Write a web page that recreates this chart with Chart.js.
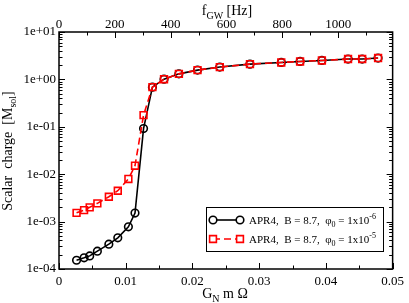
<!DOCTYPE html>
<html>
<head>
<meta charset="utf-8">
<script src="https://cdn.jsdelivr.net/npm/chart.js@4/dist/chart.umd.min.js"></script>
<style>
  html, body { margin: 0; padding: 0; background: #fff; }
  #wrap { width: 409px; height: 303px; position: relative; }
</style>
</head>
<body>
<div id="wrap"><canvas id="myChart" width="409" height="303"></canvas></div>
<script>
// G_N m Omega values (same for both runs)
const omegaVals = [0.00263, 0.00376, 0.0046, 0.00575, 0.00747, 0.00881, 0.0104, 0.01139, 0.01267, 0.014,
    0.01574, 0.01797, 0.02076, 0.0241, 0.02862, 0.03331, 0.03613, 0.0394, 0.04332, 0.04544, 0.04782];
// scalar charge [M_sol], phi0 = 1e-6
const chargePhi6 = [1.53e-4, 1.72e-4, 1.89e-4, 2.38e-4, 3.34e-4, 4.54e-4, 7.76e-4, 1.51e-3, 0.0916, 0.687,
    1.01, 1.31, 1.57, 1.82, 2.10, 2.28, 2.39, 2.51, 2.69, 2.69, 2.82];
// scalar charge [M_sol], phi0 = 1e-5
const chargePhi5 = [1.53e-3, 1.75e-3, 2.0e-3, 2.43e-3, 3.34e-3, 4.48e-3, 7.94e-3, 0.0151, 0.176, 0.687,
    1.01, 1.31, 1.57, 1.82, 2.10, 2.28, 2.39, 2.51, 2.69, 2.69, 2.82];
const xTicks = [0, 0.01, 0.02, 0.03, 0.04, 0.05];
const freqTicks = [0, 200, 400, 600, 800, 1000];
const freqMax = 1195;
const decades = [1e-4, 1e-3, 1e-2, 1e-1, 1, 10];

const serif = '"Liberation Serif", "DejaVu Serif", serif';

function toPoints(ys) {
    return omegaVals.map((x, i) => ({ x: x, y: ys[i] }));
}

function expLabel(v) {
    const e = Math.round(Math.log10(v));
    const a = Math.abs(e);
    return '1e' + (e < 0 ? '-' : '+') + (a < 10 ? '0' + a : a);
}

// inward ticks, frame, titles and legend
const decorPlugin = {
    id: 'decor',
    afterDraw(chart) {
        const ctx = chart.ctx;
        const a = chart.chartArea;
        const xs = chart.scales.x, ys = chart.scales.y, fs = chart.scales.x2;
        ctx.save();
        ctx.strokeStyle = '#000';
        ctx.lineWidth = 1;
        ctx.beginPath();
        // y ticks left and right
        for (let d = 0; d < decades.length; d++) {
            for (let m = 1; m <= 9; m++) {
                const v = decades[d] * m;
                if (v > 10.0001) break;
                const py = Math.round(ys.getPixelForValue(v)) + 0.5;
                const len = m === 1 ? 6 : 3.5;
                ctx.moveTo(a.left, py); ctx.lineTo(a.left + len, py);
                ctx.moveTo(a.right, py); ctx.lineTo(a.right - len, py);
            }
        }
        // bottom ticks
        for (let v = 0; v <= 0.05001; v += 0.005) {
            const px = Math.round(xs.getPixelForValue(v)) + 0.5;
            const major = Math.abs(v / 0.01 - Math.round(v / 0.01)) < 1e-6;
            ctx.moveTo(px, a.bottom); ctx.lineTo(px, a.bottom - (major ? 6 : 3.5));
        }
        // top ticks
        for (let f = 0; f <= freqMax; f += 100) {
            const px = Math.round(fs.getPixelForValue(f)) + 0.5;
            const major = f % 200 === 0;
            ctx.moveTo(px, a.top); ctx.lineTo(px, a.top + (major ? 6 : 3.5));
        }
        ctx.stroke();
        // frame
        ctx.lineWidth = 1.5;
        ctx.strokeRect(a.left, a.top, a.right - a.left, a.bottom - a.top);

        // titles
        ctx.fillStyle = '#000';
        ctx.textBaseline = 'alphabetic';
        drawParts(ctx, [['f', 14, 0], ['GW', 10, 4], [' [Hz]', 14, 0]], 227, 15, true);
        drawParts(ctx, [['G', 14, 0], ['N', 10, 4], [' m \u03A9', 14, 0]], 225, 298, true);
        ctx.save();
        ctx.translate(12, 151);
        ctx.rotate(-Math.PI / 2);
        drawParts(ctx, [['Scalar  charge  [M', 14, 0], ['sol', 10, 4], [']', 14, 0]], 0, 0, true);
        ctx.restore();

        // legend
        ctx.lineWidth = 1;
        ctx.strokeStyle = '#000';
        ctx.strokeRect(206.5, 207.5, 177, 44);
        const rows = [
            { y: 220, color: '#000', dash: [], style: 'circle', sup: '-6' },
            { y: 239, color: '#ff0000', dash: [7, 4], style: 'rect', sup: '-5' }
        ];
        rows.forEach(r => {
            ctx.strokeStyle = r.color;
            ctx.lineWidth = 1.6;
            ctx.setLineDash(r.dash);
            ctx.beginPath();
            ctx.moveTo(213, r.y); ctx.lineTo(240, r.y);
            ctx.stroke();
            ctx.setLineDash([]);
            [213, 240].forEach(px => {
                ctx.beginPath();
                if (r.style === 'circle') {
                    ctx.arc(px, r.y, 3.8, 0, Math.PI * 2);
                } else {
                    ctx.rect(px - 3.4, r.y - 3.4, 6.8, 6.8);
                }
                ctx.fillStyle = '#fff';
                ctx.fill();
                ctx.stroke();
            });
            ctx.fillStyle = '#000';
            drawParts(ctx, [['APR4,  B = 8.7,  \u03C6', 11, 0], ['0', 8, 3], [' = 1x10', 11, 0], [r.sup, 8, -5]], 249, r.y + 4, false);
        });
        ctx.restore();
    }
};

// draws text runs with sub/superscripts; parts = [text, size, dy]
function drawParts(ctx, parts, x, y, centered) {
    let total = 0;
    parts.forEach(p => { ctx.font = p[1] + 'px ' + serif; total += ctx.measureText(p[0]).width; });
    let cx = centered ? x - total / 2 : x;
    ctx.textAlign = 'left';
    parts.forEach(p => {
        ctx.font = p[1] + 'px ' + serif;
        ctx.fillText(p[0], cx, y + p[2]);
        cx += ctx.measureText(p[0]).width;
    });
}

const tickFont = { family: serif, size: 13 };

new Chart(document.getElementById('myChart').getContext('2d'), {
    type: 'scatter',
    data: {
        datasets: [{
            label: 'APR4, B = 8.7, phi0 = 1x10^-5',
            data: toPoints(chargePhi5),
            xAxisID: 'x', yAxisID: 'y',
            showLine: true,
            borderColor: '#ff0000',
            borderWidth: 1.6,
            borderDash: [7, 4],
            pointStyle: 'rect',
            pointRadius: 4.8,
            pointBorderWidth: 1.6,
            pointBorderColor: '#ff0000',
            pointBackgroundColor: 'rgba(255,255,255,0)',
            order: 0
        }, {
            label: 'APR4, B = 8.7, phi0 = 1x10^-6',
            data: toPoints(chargePhi6),
            xAxisID: 'x', yAxisID: 'y',
            showLine: true,
            borderColor: '#000',
            borderWidth: 1.6,
            pointStyle: 'circle',
            pointRadius: 3.8,
            pointBorderWidth: 1.6,
            pointBorderColor: '#000',
            pointBackgroundColor: 'rgba(255,255,255,0)',
            order: 1
        }]
    },
    options: {
        responsive: false,
        animation: false,
        layout: { padding: 0 },
        plugins: { legend: { display: false }, tooltip: { enabled: false } },
        scales: {
            x: {
                type: 'linear', position: 'bottom', min: 0, max: 0.05,
                afterFit: s => { s.height = 34; },
                afterBuildTicks: s => { s.ticks = xTicks.map(v => ({ value: v })); },
                ticks: {
                    color: '#000', font: tickFont, padding: 5, maxRotation: 0, autoSkip: false,
                    callback: v => v === 0 ? '0' : v.toFixed(2)
                },
                grid: { display: false, drawTicks: false },
                border: { display: false }
            },
            x2: {
                type: 'linear', position: 'top', min: 0, max: freqMax,
                afterFit: s => { s.height = 32; },
                afterBuildTicks: s => { s.ticks = freqTicks.map(v => ({ value: v })); },
                ticks: { color: '#000', font: tickFont, padding: 0, maxRotation: 0, autoSkip: false, callback: v => String(v) },
                grid: { display: false, drawTicks: false },
                border: { display: false }
            },
            y: {
                type: 'logarithmic', position: 'left', min: 1e-4, max: 10,
                afterFit: s => { s.width = 59; },
                afterBuildTicks: s => { s.ticks = decades.map(v => ({ value: v })); },
                ticks: { color: '#000', font: tickFont, padding: 3, autoSkip: false, callback: v => expLabel(v) },
                grid: { display: false, drawTicks: false },
                border: { display: false }
            },
            y2: {
                type: 'logarithmic', position: 'right', min: 1e-4, max: 10,
                afterFit: s => { s.width = 13; },
                ticks: { display: false },
                grid: { display: false, drawTicks: false },
                border: { display: false }
            }
        }
    },
    plugins: [decorPlugin]
});
</script>
</body>
</html>
